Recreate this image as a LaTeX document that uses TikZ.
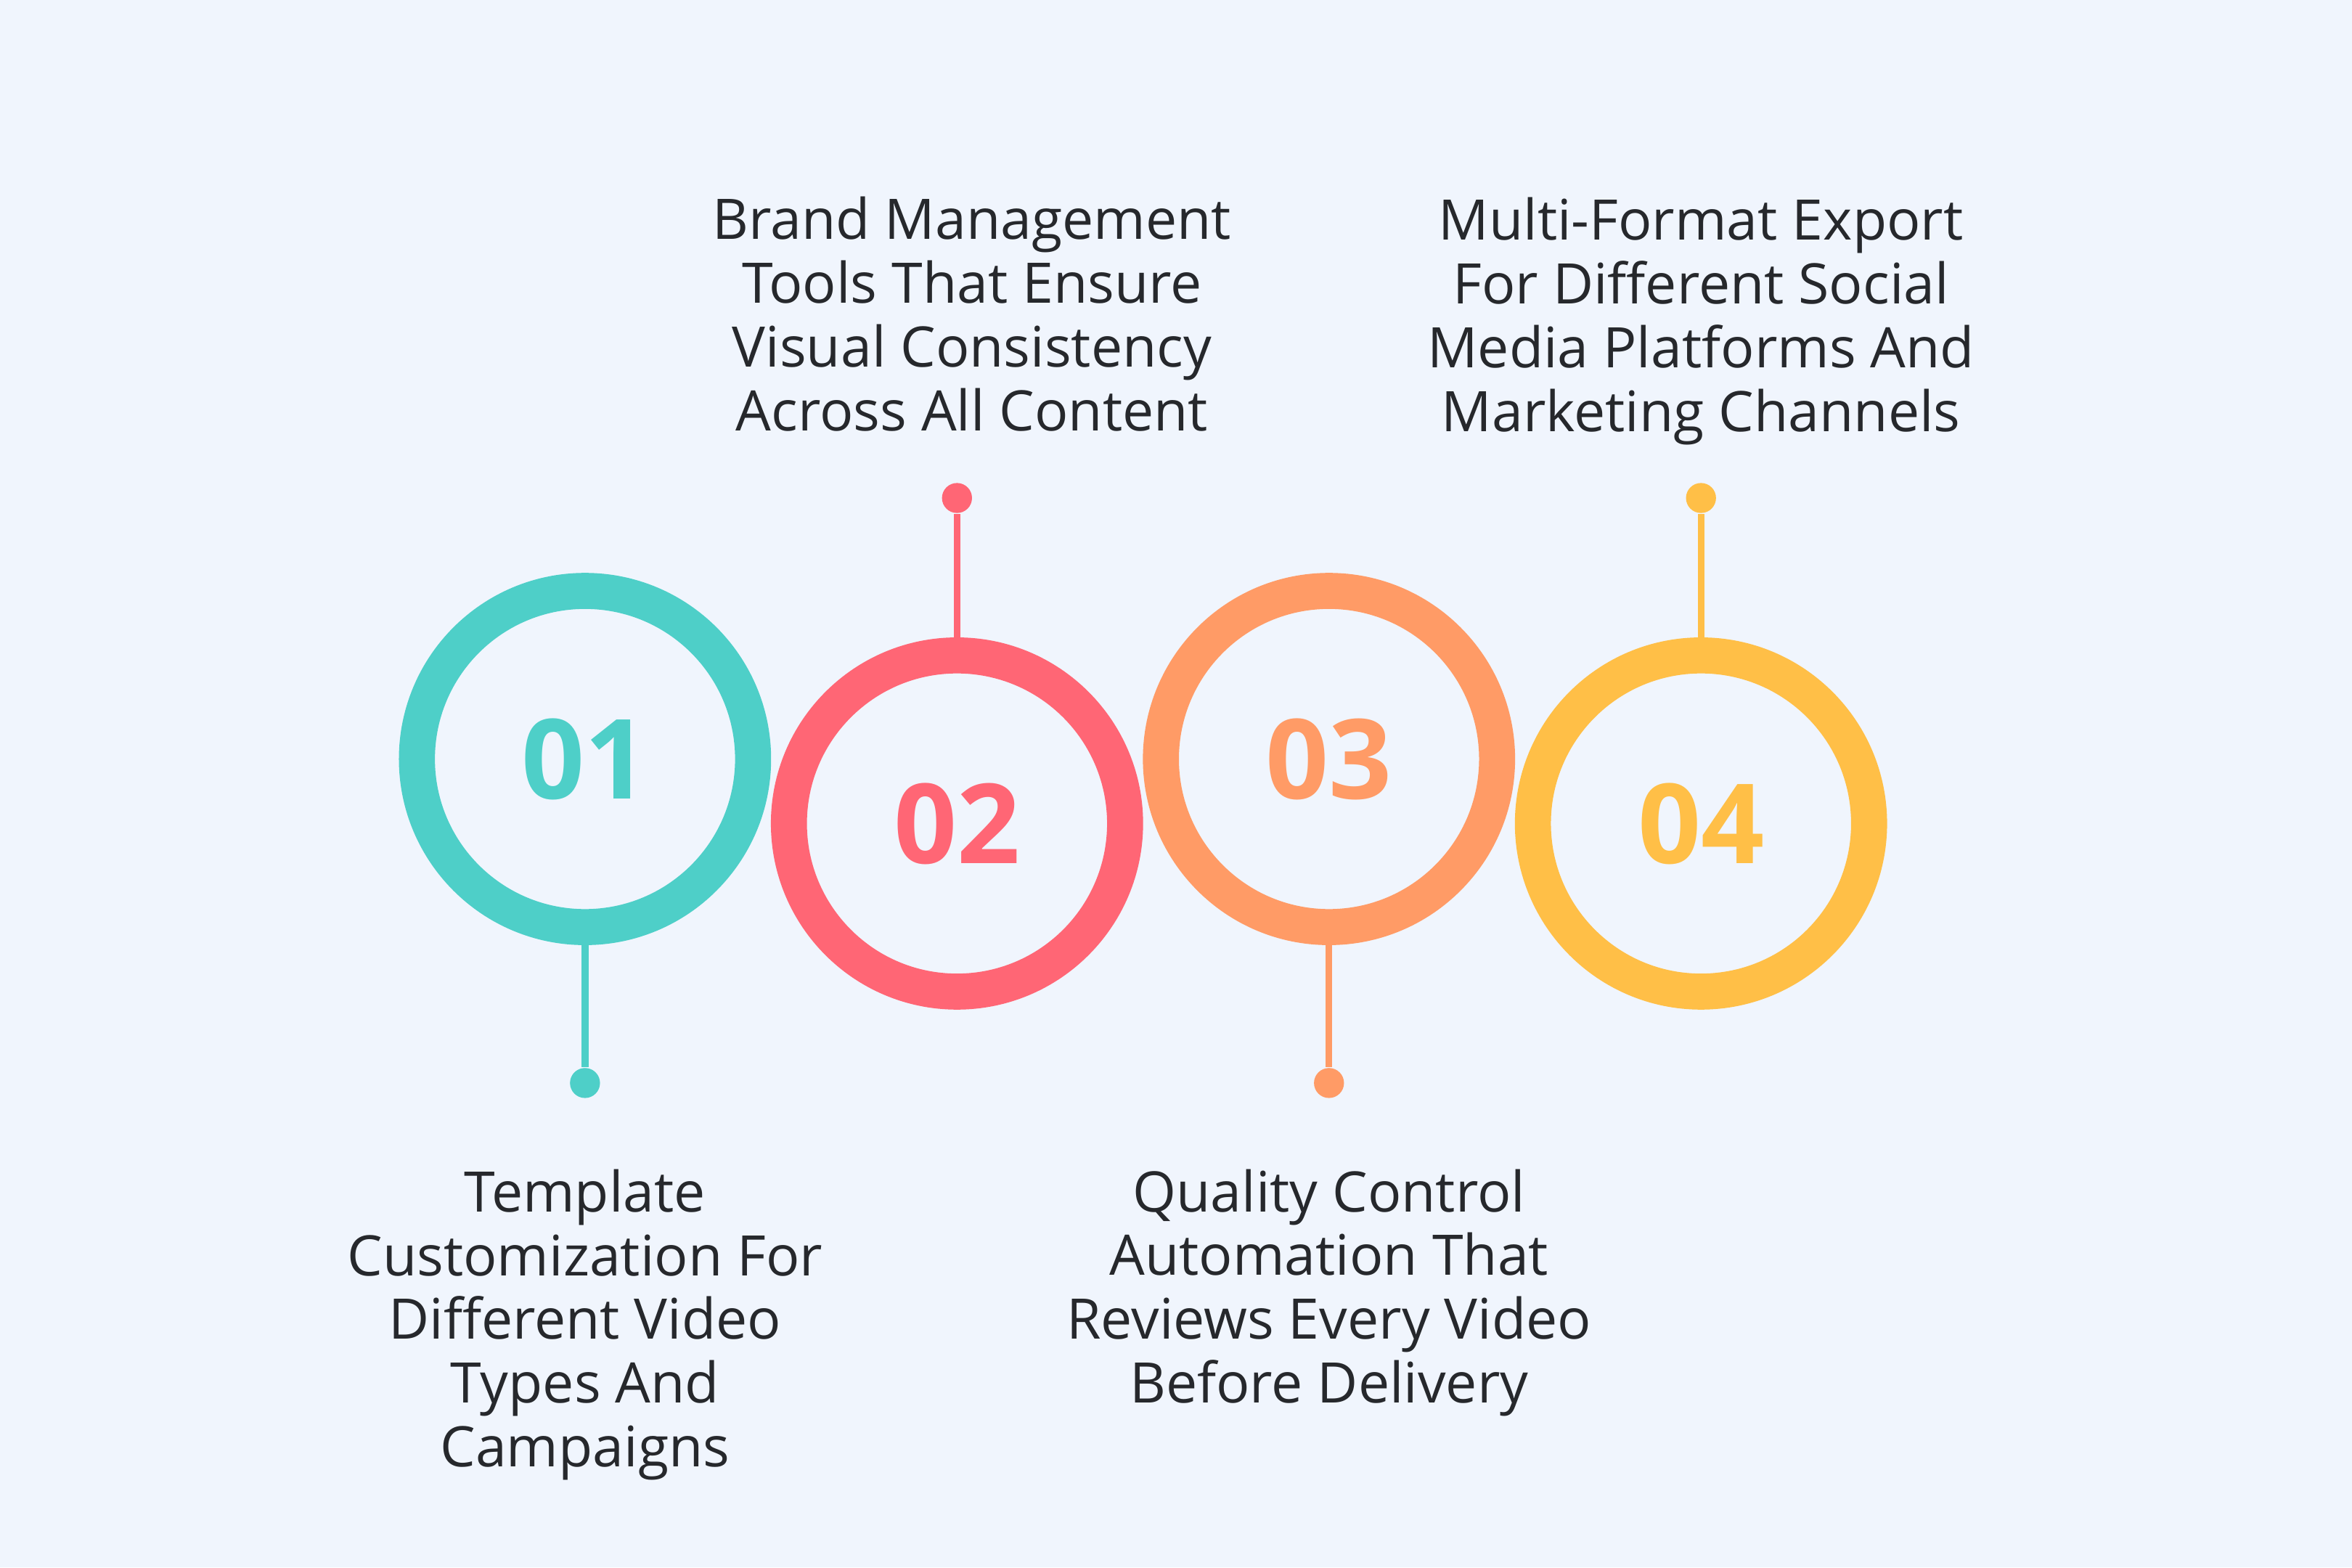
\documentclass[tikz,border=0pt]{standalone}
\usepackage{fontspec}
\setmainfont{Open Sans}
\usetikzlibrary{positioning}
\definecolor{bgc}{HTML}{F0F5FD}
\definecolor{cteal}{HTML}{4ECFC8}
\definecolor{cred}{HTML}{FF6675}
\definecolor{corange}{HTML}{FF9B66}
\definecolor{cyellow}{HTML}{FFBF47}
\definecolor{ctext}{HTML}{26282C}
\tikzset{
    ring/.style={circle,line width=0.24cm,minimum size=2.24cm,inner sep=0pt,
        font=\fontsize{21}{21}\selectfont\bfseries},
    stem/.style={line width=0.045cm},
    tip/.style={circle,fill,inner sep=0pt,minimum size=0.2cm},
    desc/.style={align=center,text=ctext,font=\fontsize{10.6}{12.1}\selectfont}
}
\begin{document}
\begin{tikzpicture}[x=0.01cm,y=-0.01cm]
	\fill[bgc] (0,0) rectangle (1568,1045);
	\useasboundingbox (0,0) rectangle (1568,1045);
	
	\node(ring1) [ring,draw=cteal,text=cteal] at (390,506) {01};
	\node(tip1) [tip,cteal] at (390,722) {};
	\draw[stem,cteal] (ring1.south) -- (tip1);
	\node(text1) [desc,anchor=north] at (390,767) {Template\\Customization For\\Different Video\\Types And\\Campaigns};
	
	\node(ring2) [ring,draw=cred,text=cred] at (638,549) {02};
	\node(tip2) [tip,cred] at (638,332) {};
	\draw[stem,cred] (ring2.north) -- (tip2);
	\node(text2) [desc,anchor=south] at (648,300) {Brand Management\\Tools That Ensure\\Visual Consistency\\Across All Content};
	
	\node(ring3) [ring,draw=corange,text=corange] at (886,506) {03};
	\node(tip3) [tip,corange] at (886,722) {};
	\draw[stem,corange] (ring3.south) -- (tip3);
	\node(text3) [desc,anchor=north] at (886,767) {Quality Control\\Automation That\\Reviews Every Video\\Before Delivery};
	
	\node(ring4) [ring,draw=cyellow,text=cyellow] at (1134,549) {04};
	\node(tip4) [tip,cyellow] at (1134,332) {};
	\draw[stem,cyellow] (ring4.north) -- (tip4);
	\node(text4) [desc,anchor=south] at (1134,309) {Multi-Format Export\\For Different Social\\Media Platforms And\\Marketing Channels};
\end{tikzpicture}
\end{document}
